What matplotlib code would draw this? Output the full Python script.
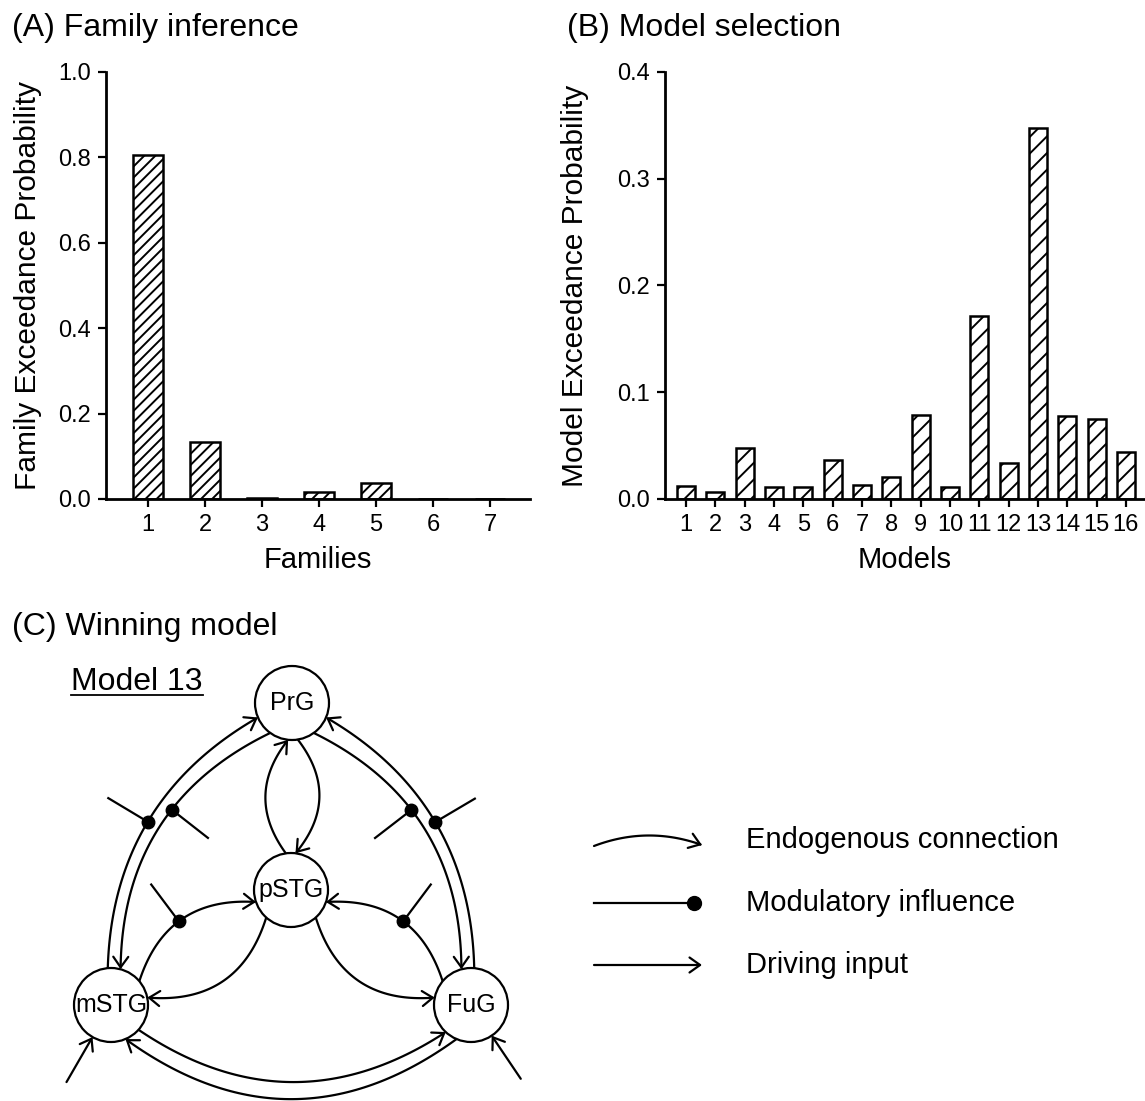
import numpy as np
import matplotlib
matplotlib.use('Agg')
import matplotlib.pyplot as plt
from matplotlib.patches import Circle, FancyArrowPatch
from matplotlib.path import Path

plt.rcParams['font.family'] = ['Liberation Sans', 'DejaVu Sans']
plt.rcParams['hatch.linewidth'] = 1.4

# ---- panel A: family inference ----
families = [1, 2, 3, 4, 5, 6, 7]
family_xp = [0.805, 0.134, 0.003, 0.017, 0.038, 0.0, 0.0]

# ---- panel B: model selection ----
models = list(range(1, 17))
model_xp = [0.012, 0.0065, 0.048, 0.011, 0.011, 0.037, 0.013, 0.021,
            0.079, 0.011, 0.171, 0.0335, 0.348, 0.078, 0.075, 0.044]

# ---- panel C: winning model (pixel layout of the diagram) ----
node_names = ['PrG', 'pSTG', 'mSTG', 'FuG']
node_x = [292, 291, 111, 471]
node_y = [703, 890, 1005, 1005]
node_r = 37

# source, target, angle on source, angle on target, bend, modulation (t, side) or None
connections = [
    ('mSTG', 'PrG', 95, 203, 0.28, (0.5, 1)),
    ('PrG', 'mSTG', 234, 75, -0.31, (0.42, -1)),
    ('FuG', 'PrG', 85, 337, -0.28, (0.5, 1)),
    ('PrG', 'FuG', 306, 105, 0.31, (0.42, -1)),
    ('pSTG', 'PrG', 98, 264, 0.38, None),
    ('PrG', 'pSTG', 279, 83, 0.40, None),
    ('mSTG', 'pSTG', 40, 199, 0.39, (0.47, 1)),
    ('pSTG', 'mSTG', 228, 11.6, 0.40, None),
    ('FuG', 'pSTG', 140, 341, -0.39, (0.47, 1)),
    ('pSTG', 'FuG', 312, 168.4, -0.40, None),
    ('FuG', 'mSTG', 247, 293, 0.363, None),
    ('mSTG', 'FuG', 318, 227, -0.333, None),
]
driving_inputs = [('mSTG', 240, 52), ('FuG', 304, 52)]

legend_labels = ['Endogenous connection', 'Modulatory influence', 'Driving input']
legend_y = [840, 903, 965]

W, H = 1145, 1101
fig = plt.figure(figsize=(W / 100, H / 100), dpi=100)

ARROW = '->,head_length=0.38,head_width=0.27'
LW = 1.6


def style_bar_axes(ax):
    for s in ['top', 'right']:
        ax.spines[s].set_visible(False)
    for s in ['left', 'bottom']:
        ax.spines[s].set_linewidth(2.0)
    ax.tick_params(direction='out', length=6, width=1.6, labelsize=17, pad=5)


# panel A
ax_a = fig.add_axes([106 / W, 1 - 499 / H, 424 / W, 427 / H])
ax_a.bar(families, family_xp, width=0.52, color='white', edgecolor='black',
         linewidth=1.8, hatch='///')
ax_a.set_xlim(0.263, 7.70)
ax_a.set_ylim(0, 1.0)
ax_a.set_xticks(families)
ax_a.set_yticks(np.arange(0, 1.01, 0.2))
ax_a.yaxis.set_major_formatter(plt.FormatStrFormatter('%.1f'))
style_bar_axes(ax_a)
ax_a.set_xlabel('Families', fontsize=21, labelpad=7)
ax_a.set_ylabel('Family Exceedance Probability', fontsize=21.5)
ax_a.yaxis.set_label_coords(-0.151, 0.5)

# panel B
ax_b = fig.add_axes([665 / W, 1 - 499 / H, 480 / W, 427 / H])
ax_b.bar(models, model_xp, width=0.62, color='white', edgecolor='black',
         linewidth=1.8, hatch='//')
ax_b.set_xlim(0.284, 16.65)
ax_b.set_ylim(0, 0.4)
ax_b.set_xticks(models)
ax_b.set_yticks(np.arange(0, 0.41, 0.1))
ax_b.yaxis.set_major_formatter(plt.FormatStrFormatter('%.1f'))
style_bar_axes(ax_b)
ax_b.set_xlabel('Models', fontsize=21, labelpad=7)
ax_b.set_ylabel('Model Exceedance Probability', fontsize=21.5)
ax_b.yaxis.set_label_coords(-0.158, 0.5)

fig.text(12 / W, 1 - 28 / H, '(A) Family inference', fontsize=23, va='center')
fig.text(567 / W, 1 - 28 / H, '(B) Model selection', fontsize=23, va='center')
fig.text(12 / W, 1 - 627 / H, '(C) Winning model', fontsize=23, va='center')

# panel C
ax_c = fig.add_axes([0, 0, 1, 461 / H])
ax_c.set_xlim(0, W)
ax_c.set_ylim(H, 640)
ax_c.axis('off')


def node_point(name, angle):
    i = node_names.index(name)
    a = np.deg2rad(angle)
    return np.array([node_x[i] + node_r * np.cos(a), node_y[i] - node_r * np.sin(a)])


def bent_curve(p0, p1, bend, n=80):
    d = p1 - p0
    ctrl = (p0 + p1) / 2 + bend * np.array([d[1], -d[0]])
    t = np.linspace(0, 1, n)[:, None]
    pts = (1 - t) ** 2 * p0 + 2 * t * (1 - t) * ctrl + t ** 2 * p1
    return pts, ctrl


def draw_arrow_path(pts, arrow=True):
    style = ARROW if arrow else '-'
    patch = FancyArrowPatch(path=Path(pts), arrowstyle=style, mutation_scale=20,
                            lw=LW, color='black', clip_on=False)
    ax_c.add_patch(patch)


for src, dst, a0, a1, bend, mod in connections:
    p0 = node_point(src, a0)
    p1 = node_point(dst, a1)
    pts, ctrl = bent_curve(p0, p1, bend)
    draw_arrow_path(pts)
    if mod is not None:
        t, side = mod
        dot = (1 - t) ** 2 * p0 + 2 * t * (1 - t) * ctrl + t ** 2 * p1
        tan = 2 * (1 - t) * (ctrl - p0) + 2 * t * (p1 - ctrl)
        tan = tan / np.hypot(*tan)
        normal = np.array([tan[1], -tan[0]]) * np.sign(bend) * side
        end = dot + normal * 46
        ax_c.plot([dot[0], end[0]], [dot[1], end[1]], color='black', lw=LW)
        ax_c.plot(dot[0], dot[1], 'o', color='black', ms=9)

for name, angle, length in driving_inputs:
    tip = node_point(name, angle)
    a = np.deg2rad(angle)
    start = tip + length * np.array([np.cos(a), -np.sin(a)])
    draw_arrow_path(np.array([start, tip]))

for name, x, y in zip(node_names, node_x, node_y):
    ax_c.add_patch(Circle((x, y), node_r, facecolor='white', edgecolor='black',
                          lw=LW, zorder=3))
    ax_c.text(x, y, name, fontsize=18, ha='center', va='center', zorder=4)

model_label = ax_c.text(71, 682, 'Model 13', fontsize=23, va='center')

# legend glyphs
lx0, lx1 = 594, 702
curve, _ = bent_curve(np.array([lx0, legend_y[0] + 6.0]),
                      np.array([lx1, legend_y[0] + 5.0]), 0.185)
draw_arrow_path(curve)
ax_c.plot([lx0, lx1 - 8], [legend_y[1], legend_y[1]], color='black', lw=LW)
ax_c.plot(lx1 - 8, legend_y[1], 'o', color='black', ms=10)
draw_arrow_path(np.array([[lx0, legend_y[2]], [lx1, legend_y[2]]]))
for lab, y in zip(legend_labels, legend_y):
    ax_c.text(746, y, lab, fontsize=21, va='center')

# underline "Model 13"
fig.canvas.draw()
bb = model_label.get_window_extent()
inv = ax_c.transData.inverted()
(ux0, uy0), (ux1, uy1) = inv.transform([[bb.x0, bb.y0 + 2], [bb.x1, bb.y0 + 2]])
ax_c.plot([ux0, ux1], [uy0, uy1], color='black', lw=1.3)

fig.savefig('out.png', dpi=100)
